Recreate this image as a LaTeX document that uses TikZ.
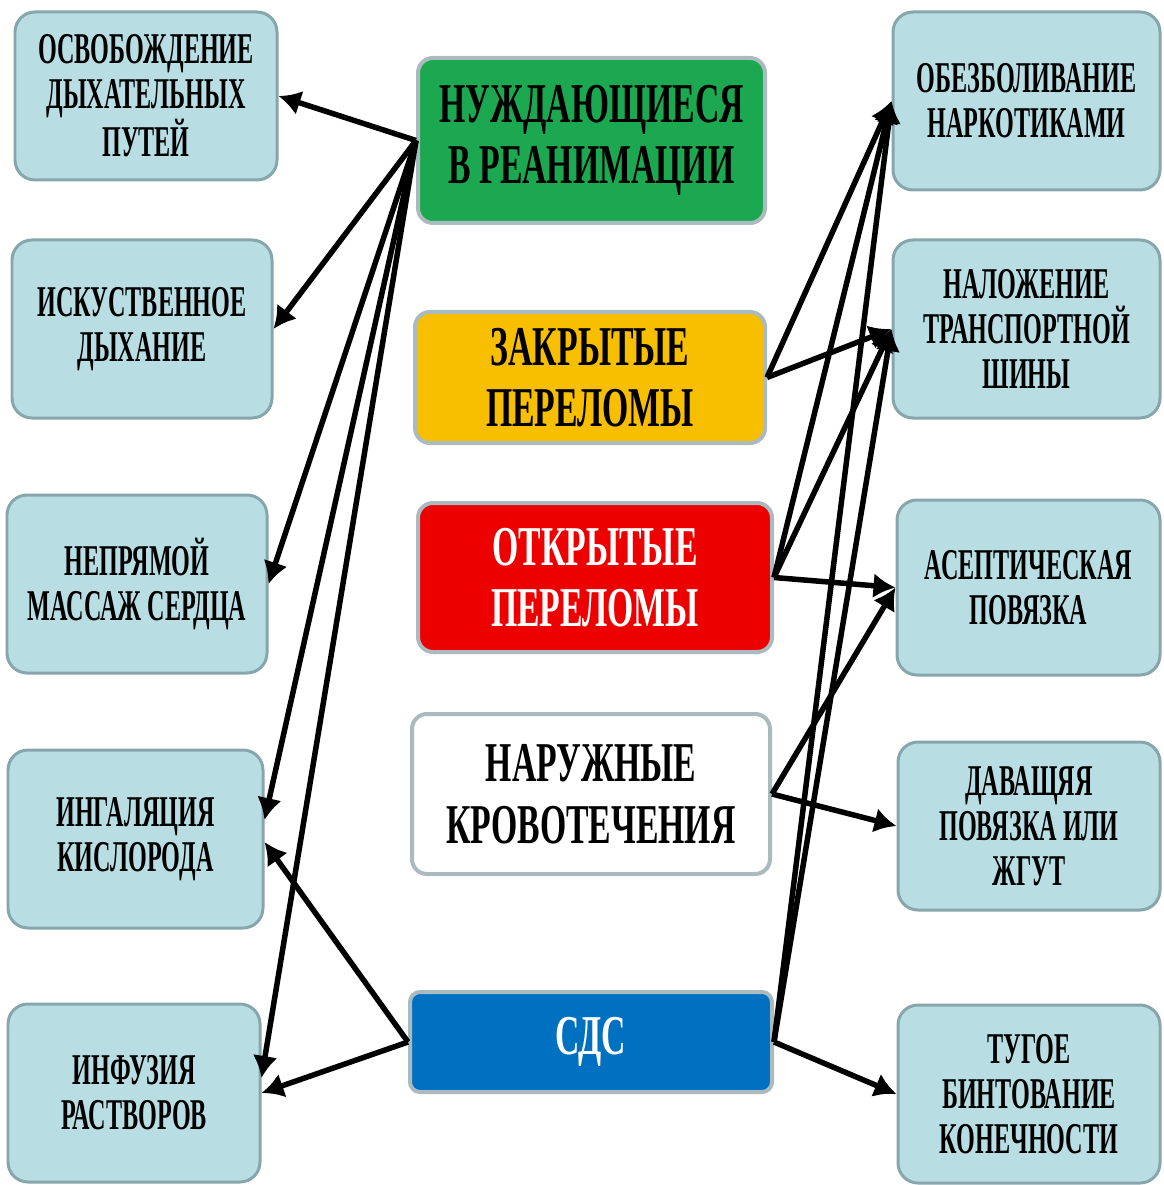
\documentclass[tikz,border=0pt]{standalone}
\usepackage{fontspec}
\setmainfont{Liberation Serif}[FakeStretch=0.6]
\newfontfamily\sidefont{Liberation Serif}[FakeStretch=0.55]
\usetikzlibrary{arrows.meta}

\definecolor{sidefill}{RGB}{184,222,227}
\definecolor{sideedge}{RGB}{134,166,172}
\definecolor{midedge}{RGB}{170,186,190}
\definecolor{reangreen}{RGB}{27,168,80}
\definecolor{closedyel}{RGB}{248,190,0}
\definecolor{openred}{RGB}{236,0,0}
\definecolor{sdsblue}{RGB}{0,112,192}

\tikzset{
    box/.style={draw, rounded corners=0.4cm, line width=0.06cm, align=center,
        inner sep=0pt, font=\sidefont\fontsize{25}{25.5}\selectfont\bfseries},
    side/.style={box, fill=sidefill, draw=sideedge},
    mid/.style={box, draw=midedge, rounded corners=0.3cm, line width=0.08cm,
        font=\rmfamily\fontsize{32}{35}\selectfont\bfseries},
    arr/.style={-{Latex[length=0.44cm,width=0.5cm]}, line width=0.11cm},
}

\begin{document}
\begin{tikzpicture}[x=0.02cm, y=-0.02cm]

\def\px{0.02cm}
\def\sh{178*\px}

\useasboundingbox (0,0) rectangle (1163,1185);

% left column
\node[side, minimum width=262*\px, minimum height=168*\px] (l1) at (146,96) {ОСВОБОЖДЕНИЕ\\ДЫХАТЕЛЬНЫХ\\ПУТЕЙ};
\node[side, minimum width=260*\px, minimum height=\sh] (l2) at (142,329) {ИСКУСТВЕННОЕ\\ДЫХАНИЕ};
\node[side, minimum width=260*\px, minimum height=\sh] (l3) at (137,584) {НЕПРЯМОЙ\\МАССАЖ СЕРДЦА};
\node[side, minimum width=255*\px, minimum height=\sh] (l4) at (135.5,839) {ИНГАЛЯЦИЯ\\КИСЛОРОДА};
\node[side, minimum width=252*\px, minimum height=\sh] (l5) at (134,1093) {ИНФУЗИЯ\\РАСТВОРОВ};

% middle column
\node[mid, fill=reangreen, minimum width=347*\px, minimum height=165*\px] (c1) at (591.5,140.5) {НУЖДАЮЩИЕСЯ\\В РЕАНИМАЦИИ};
\node[mid, fill=closedyel, minimum width=350*\px, minimum height=131*\px] (c2) at (590,377.5) {ЗАКРЫТЫЕ\\ПЕРЕЛОМЫ};
\node[mid, fill=openred, text=white, minimum width=354*\px, minimum height=149*\px] (c3) at (595,577.5) {ОТКРЫТЫЕ\\ПЕРЕЛОМЫ};
\node[mid, fill=white, minimum width=358*\px, minimum height=160*\px] (c4) at (591,794) {НАРУЖНЫЕ\\КРОВОТЕЧЕНИЯ};
\node[mid, fill=sdsblue, text=white, rounded corners=0.2cm, minimum width=362*\px, minimum height=100*\px] (c5) at (591,1042) {СДС};

% right column
\node[side, minimum width=267*\px, minimum height=\sh] (r1) at (1026.5,101) {ОБЕЗБОЛИВАНИЕ\\НАРКОТИКАМИ};
\node[side, minimum width=267*\px, minimum height=\sh] (r2) at (1026.5,329) {НАЛОЖЕНИЕ\\ТРАНСПОРТНОЙ\\ШИНЫ};
\node[side, minimum width=263*\px, minimum height=175*\px] (r3) at (1028.5,587.5) {АСЕПТИЧЕСКАЯ\\ПОВЯЗКА};
\node[side, minimum width=262*\px, minimum height=168*\px] (r4) at (1029,826) {ДАВАЩЯЯ\\ПОВЯЗКА ИЛИ\\ЖГУТ};
\node[side, minimum width=262*\px, minimum height=\sh] (r5) at (1029,1094) {ТУГОЕ\\БИНТОВАНИЕ\\КОНЕЧНОСТИ};

\foreach \t in {l1,l2,l3}
    \draw[arr] (c1.west) -- (\t.east);
\draw[arr] (c1.west) -- ([yshift=0.38cm]l4.east);
\draw[arr] (c1.west) -- ([yshift=0.3cm]l5.east);
\draw[arr] (c5.west) -- ([yshift=-0.06cm]l4.east);
\draw[arr] (c5.west) -- (l5.east);

\foreach \s/\t in {c2/r1, c2/r2, c3/r1, c3/r2, c3/r3, c4/r3, c4/r4, c5/r1, c5/r2, c5/r5}
    \draw[arr] (\s.east) -- (\t.west);

\end{tikzpicture}
\end{document}
